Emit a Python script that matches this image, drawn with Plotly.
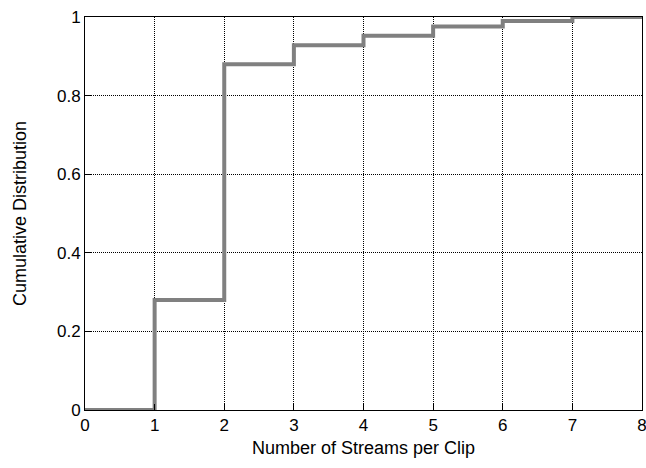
import plotly.graph_objects as go

streams = [0, 1, 2, 3, 4, 5, 6, 7, 8]
cdf = [0.0, 0.28, 0.88, 0.928, 0.952, 0.976, 0.99, 1.0, 1.0]
x_ticks = [0, 1, 2, 3, 4, 5, 6, 7, 8]
y_ticks = [0, 0.2, 0.4, 0.6, 0.8, 1]
y_tick_labels = ["0", "0.2", "0.4", "0.6", "0.8", "1"]

fig = go.Figure()
fig.add_trace(go.Scatter(
    x=streams, y=cdf, mode="lines", line=dict(shape="hv", color="#808080", width=4),
    cliponaxis=False, showlegend=False, hoverinfo="skip"))

font = "Liberation Sans, Arial, Helvetica, sans-serif"
fig.update_layout(
    width=646, height=468,
    margin=dict(l=85, r=4, t=17, b=58),
    paper_bgcolor="white", plot_bgcolor="white",
    font=dict(family=font, size=17, color="black"),
    xaxis=dict(range=[0, 8], tickvals=x_ticks, showgrid=True, gridcolor="black",
               griddash="1px,1px", gridwidth=1, zeroline=False, showline=True,
               linecolor="black", linewidth=1, mirror=True, ticks="inside",
               ticklen=6, tickcolor="black", automargin=False,
               ticklabeloverflow="allow",
               title=dict(text="Number of Streams per Clip", font=dict(size=18), standoff=6)),
    yaxis=dict(range=[0, 1], tickvals=y_ticks, ticktext=y_tick_labels, showgrid=True,
               gridcolor="black", griddash="1px,1px", gridwidth=1, zeroline=False,
               showline=True, linecolor="black", linewidth=1, mirror=True,
               ticks="inside", ticklen=6, tickcolor="black", automargin=False,
               ticklabeloverflow="allow",
               title=dict(text="Cumulative Distribution", font=dict(size=18), standoff=25)),
)
fig.write_html(
    "out.html",
    config={"displayModeBar": False, "staticPlot": True},
    post_script="document.body.style.margin='0';document.body.style.overflow='hidden';",
)
